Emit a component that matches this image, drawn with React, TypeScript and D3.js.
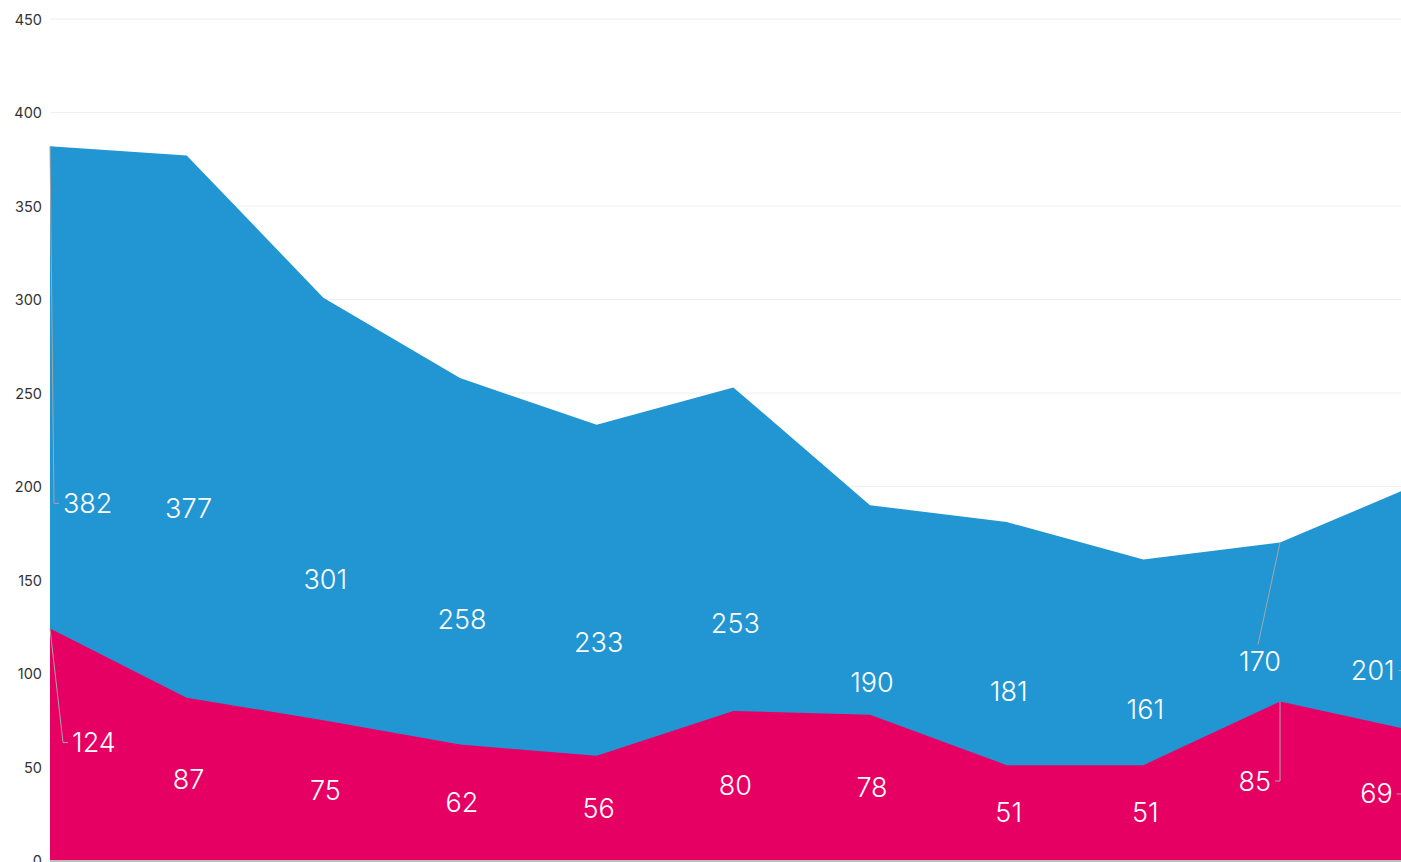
import React from "react";
import * as d3 from "d3";

const categories = ["P1", "P2", "P3", "P4", "P5", "P6", "P7", "P8", "P9", "P10", "P11"];
const blueValues = [382, 377, 301, 258, 233, 253, 190, 181, 161, 170, 201];
const redValues = [124, 87, 75, 62, 56, 80, 78, 51, 51, 85, 69];
const yTicks = [0, 50, 100, 150, 200, 250, 300, 350, 400, 450];

const W = 1401;
const H = 862;
const BLUE = "#2196d3";
const RED = "#e70064";
const FONT = "Inter, 'Open Sans', sans-serif";

// label layout adjustments (pixels), keyed by series-index
type Adj = { dx: number; dy: number; anchor: "start" | "end" | "middle" };
const labelAdjust: Record<string, Adj> = {
  "blue-0": { dx: 13, dy: 0, anchor: "start" },
  "red-0": { dx: 22, dy: -2, anchor: "start" },
  "blue-9": { dx: -20, dy: -40, anchor: "middle" },
  "red-9": { dx: -9, dy: 0, anchor: "end" },
  "blue-10": { dx: -22, dy: -2, anchor: "end" },
  "red-10": { dx: -24, dy: -2, anchor: "end" },
};

export default function App() {
  const x = d3.scalePoint<string>().domain(categories).range([50, 1416.7]);
  const y = d3.scaleLinear().domain([0, 450]).range([860.5, 19]);

  const area = (vals: number[]) =>
    d3
      .area<number>()
      .x((_, i) => x(categories[i]) as number)
      .y0(y(0))
      .y1((d) => y(d))(vals) as string;

  const series = [
    { key: "blue", values: blueValues, color: BLUE },
    { key: "red", values: redValues, color: RED },
  ];

  const labels: React.ReactNode[] = [];
  series.forEach((s) => {
    s.values.forEach((v, i) => {
      const px = x(categories[i]) as number;
      const py = y(v);
      const ly0 = y(v / 2);
      const adj = labelAdjust[`${s.key}-${i}`];
      let lx = px + 2;
      let ly = ly0;
      let anchor: string = "middle";
      let leader: React.ReactNode = null;
      if (adj) {
        anchor = adj.anchor;
        lx = px + adj.dx;
        ly = ly0 + adj.dy;
        if (adj.anchor === "middle") {
          leader = (
            <polyline
              points={`${px},${py} ${lx - 2},${ly - 17}`}
              fill="none"
              stroke="#a6a6a6"
              strokeWidth={1}
            />
          );
        } else {
          const dir = adj.anchor === "start" ? 1 : -1;
          const end = lx - dir * 4;
          const knee = end - dir * 5;
          leader = (
            <polyline
              points={`${px},${py} ${knee},${ly} ${end},${ly}`}
              fill="none"
              stroke="#a6a6a6"
              strokeWidth={1}
            />
          );
        }
      }
      labels.push(
        <g key={`${s.key}-${i}`}>
          {leader}
          <text
            x={lx}
            y={ly}
            textAnchor={anchor as any}
            dominantBaseline="central"
            fill="#ffffff"
            fontSize={27}
            fontWeight={300}
            fontFamily={FONT}
          >
            {v}
          </text>
        </g>
      );
    });
  });

  return (
    <svg
      width={W}
      height={H}
      style={{ position: "absolute", left: 0, top: 0, display: "block", background: "#fff" }}
    >
      {yTicks.map((t) => (
        <g key={t}>
          <line x1={50} x2={W} y1={y(t)} y2={y(t)} stroke="#eeeeee" strokeWidth={1} />
          <text
            x={42}
            y={y(t)}
            textAnchor="end"
            dominantBaseline="central"
            fill="#333"
            fontSize={14.5}
            fontFamily={FONT}
          >
            {t}
          </text>
        </g>
      ))}
      {series.map((s) => (
        <path key={s.key} d={area(s.values)} fill={s.color} />
      ))}
      <line x1={50} x2={W} y1={y(0) + 0.5} y2={y(0) + 0.5} stroke="#bdbdbd" strokeWidth={2} />
      {labels}
    </svg>
  );
}
